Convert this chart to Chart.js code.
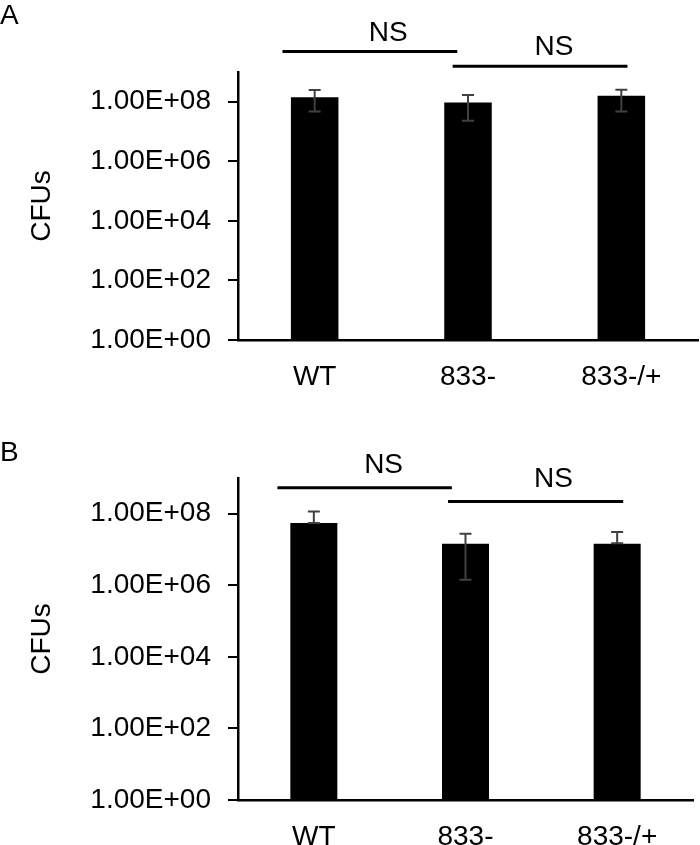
<!DOCTYPE html>
<html>
<head>
<meta charset="utf-8">
<title>CFUs</title>
<script src="https://cdn.jsdelivr.net/npm/chart.js@4.4.0/dist/chart.umd.min.js"></script>
<style>
  body { margin: 0; background: #fff; }
  #wrap { position: relative; width: 700px; height: 845px; font-family: 'Liberation Sans', Arial, sans-serif; }
  canvas { position: absolute; left: 0; }
  .tag { position: absolute; left: 0; font-size: 28px; line-height: 1; color: #000; }
</style>
</head>
<body>
<div id="wrap">
  <canvas id="chartA" width="700" height="420" style="top:0"></canvas>
  <canvas id="chartB" width="700" height="425" style="top:420px"></canvas>
  <div class="tag" style="top:1px">A</div>
  <div class="tag" style="top:438px">B</div>
</div>
<script>
const categories = ['WT', '833-', '833-/+']
const yTicks = [1, 1e2, 1e4, 1e6, 1e8]
const yTickLabels = ['1.00E+00', '1.00E+02', '1.00E+04', '1.00E+06', '1.00E+08']

// panel A
const cfuA = [1.41e8, 9.5e7, 1.59e8]
const errHighA = [2.48e8, 1.68e8, 2.54e8]
const errLowA = [4.7e7, 2.3e7, 4.7e7]

// panel B
const cfuB = [5.5e7, 1.46e7, 1.46e7]
const errHighB = [1.16e8, 2.77e7, 3.09e7]
const errLowB = [5.5e7, 1.44e6, 1.5e7]

// NS brackets: from/to/textAt in category units, level in CFUs
const bracketsA = [
  { from: -0.21, to: 0.93, level: 4.85e9, textAt: 0.48, label: 'NS' },
  { from: 0.9, to: 2.04, level: 1.55e9, textAt: 1.56, label: 'NS' },
]
const bracketsB = [
  { from: -0.24, to: 0.91, level: 5.3e8, textAt: 0.46, label: 'NS' },
  { from: 0.885, to: 2.04, level: 2.2e8, textAt: 1.58, label: 'NS' },
]

Chart.defaults.font.family = "'Liberation Sans', Arial, sans-serif"
Chart.defaults.color = '#000'

const errorBars = {
  id: 'errorBars',
  afterDatasetsDraw(chart, args, opts) {
    const { ctx, scales: { y } } = chart
    const meta = chart.getDatasetMeta(0)
    ctx.save()
    ctx.strokeStyle = '#404040'
    ctx.lineWidth = 2
    meta.data.forEach((bar, i) => {
      const top = y.getPixelForValue(opts.high[i])
      const bot = y.getPixelForValue(opts.low[i])
      ctx.beginPath()
      ctx.moveTo(bar.x, top)
      ctx.lineTo(bar.x, bot)
      ctx.moveTo(bar.x - 6, top)
      ctx.lineTo(bar.x + 6, top)
      ctx.moveTo(bar.x - 6, bot)
      ctx.lineTo(bar.x + 6, bot)
      ctx.stroke()
    })
    ctx.restore()
  },
}

const brackets = {
  id: 'brackets',
  afterDraw(chart, args, opts) {
    const { ctx, scales: { x, y } } = chart
    ctx.save()
    ctx.strokeStyle = '#000'
    ctx.fillStyle = '#000'
    ctx.lineWidth = 3
    ctx.font = "28px 'Liberation Sans', Arial, sans-serif"
    ctx.textAlign = 'center'
    ctx.textBaseline = 'alphabetic'
    opts.list.forEach((b) => {
      const py = y.getPixelForValue(b.level)
      ctx.beginPath()
      ctx.moveTo(x.getPixelForValue(b.from), py)
      ctx.lineTo(x.getPixelForValue(b.to), py)
      ctx.stroke()
      ctx.fillText(b.label, x.getPixelForValue(b.textAt), py - opts.gap)
    })
    ctx.restore()
  },
}

function makeChart(id, values, high, low, list, gap, pad, axisHeight) {
  const ctx = document.getElementById(id).getContext('2d')
  return new Chart(ctx, {
    type: 'bar',
    data: {
      labels: categories,
      datasets: [
        {
          data: values,
          backgroundColor: '#000',
          borderWidth: 0,
          categoryPercentage: 1,
          barPercentage: 0.31,
        },
      ],
    },
    options: {
      responsive: false,
      animation: false,
      layout: { padding: pad },
      plugins: {
        legend: { display: false },
        tooltip: { enabled: false },
        errorBars: { high, low },
        brackets: { list, gap },
      },
      scales: {
        x: {
          grid: { display: false },
          border: { display: true, color: '#000', width: 2.5 },
          ticks: { font: { size: 28 }, color: '#000', padding: 12 },
          afterFit: (s) => { s.height = axisHeight },
        },
        y: {
          type: 'logarithmic',
          min: 1,
          max: 1e9,
          afterBuildTicks: (s) => { s.ticks = yTicks.map((v) => ({ value: v })) },
          ticks: {
            font: { size: 28 },
            color: '#000',
            padding: 17,
            callback: (v, i) => yTickLabels[i],
          },
          grid: { display: true, drawOnChartArea: false, drawTicks: true, tickLength: 10, color: '#000', lineWidth: 2 },
          border: { display: true, color: '#000', width: 2.5 },
          title: { display: true, text: 'CFUs', font: { size: 28 }, color: '#000', padding: { top: 25, bottom: 0 } },
          afterFit: (s) => { s.width = 238 },
        },
      },
    },
    plugins: [errorBars, brackets],
  })
}

makeChart('chartA', cfuA, errHighA, errLowA, bracketsA, 11, { top: 72, right: 2, left: 0, bottom: 0 }, 80)
makeChart('chartB', cfuB, errHighB, errLowB, bracketsB, 15, { top: 58, right: 7, left: 0, bottom: 0 }, 45)
</script>
</body>
</html>
